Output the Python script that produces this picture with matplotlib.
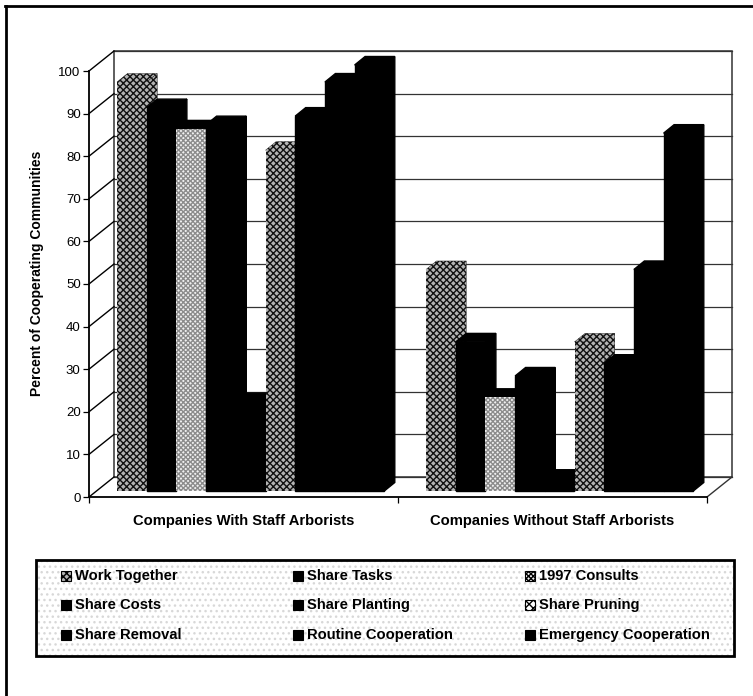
import matplotlib
matplotlib.use("Agg")
import matplotlib.pyplot as plt
from matplotlib.patches import Polygon, Rectangle

plt.rcParams["font.family"] = ["Liberation Sans", "DejaVu Sans"]
plt.rcParams["hatch.linewidth"] = 1.0

W, H = 753, 696

groups = ["Companies With Staff Arborists", "Companies Without Staff Arborists"]
series = ["Work Together", "Share Tasks", "1997 Consults", "Share Costs", "Share Planting",
          "Share Pruning", "Share Removal", "Routine Cooperation", "Emergency Cooperation"]
with_staff = [96, 90, 85, 86, 21, 80, 88, 96, 100]
without_staff = [52, 35, 22, 27, 3, 35, 30, 52, 84]
yticks = [0, 10, 20, 30, 40, 50, 60, 70, 80, 90, 100]

# fill, hatch, hatch colour per series
speckle = ("#b4b4b4", "xxxxx", "#111111")
solid = ("black", None, "black")
styles = [speckle, solid, ("#f0f0f0", "xxxxxxx", "#8c8c8c"), solid, solid,
          speckle, solid, solid, solid]
legend_swatch = list(styles)
legend_swatch[5] = ("white", "xxxx", "#777777")

fig = plt.figure(figsize=(W / 100, H / 100), dpi=100)

# front plane of the 3d box
ax = fig.add_axes([89 / W, 1 - 497 / H, (707 - 89) / W, (497 - 71) / H])
ax.set_xlim(0, 2)
ax.set_ylim(0, 100)
px = 2 / (707 - 89)
py = 100 / (497 - 71)

depth_x = 25 * px
depth_y = 20 * py
bar_w = 29.7 * px
bar_dx = 10.5 * px
bar_dy = 8.5 * py
base = 6 * py
start = 28 * px

ax.patch.set_visible(False)
for s in ["top", "right"]:
    ax.spines[s].set_visible(False)
ax.spines["left"].set_linewidth(1.3)
ax.spines["bottom"].set_linewidth(1.3)

# back wall, floor and gridlines
ax.add_patch(Polygon([(depth_x, depth_y), (depth_x, 100 + depth_y), (2 + depth_x, 100 + depth_y),
                      (2 + depth_x, depth_y)], closed=True, fill=False, ec="#333333", lw=1.1, clip_on=False))
for t in yticks:
    ax.plot([depth_x, 2 + depth_x], [t + depth_y, t + depth_y], color="#333333", lw=0.9, clip_on=False, zorder=1)
    ax.plot([0, depth_x], [t, t + depth_y], color="black", lw=1.0, clip_on=False, zorder=1)
ax.plot([2, 2 + depth_x], [0, depth_y], color="#333333", lw=1.0, clip_on=False, zorder=1)

for g, values in enumerate([with_staff, without_staff]):
    for i, v in enumerate(values):
        x0 = g + start + i * bar_w
        fc, hatch, hc = styles[i]
        # the consults bar has a light front only, its top and side print black
        dfc, dhatch, dhc = solid if i == 2 else styles[i]
        z = 2 + g * 10 + i
        lw_front = 1.0 if hatch is None else 0
        lw_depth = 1.0 if dhatch is None else 0.3
        top = v + base
        ax.add_patch(Polygon([(x0, top), (x0 + bar_dx, top + bar_dy), (x0 + bar_w + bar_dx, top + bar_dy),
                              (x0 + bar_w, top)], closed=True, fc=dfc, ec=dhc, hatch=dhatch, lw=lw_depth,
                             clip_on=False, zorder=z))
        ax.add_patch(Polygon([(x0 + bar_w, base), (x0 + bar_w + bar_dx, base + bar_dy),
                              (x0 + bar_w + bar_dx, top + bar_dy), (x0 + bar_w, top)], closed=True,
                             fc=dfc, ec=dhc, hatch=dhatch, lw=lw_depth, clip_on=False, zorder=z))
        ax.bar(x0, v, width=bar_w, bottom=base, align="edge", color=fc, hatch=hatch,
               edgecolor=hc, linewidth=lw_front, zorder=z + 0.5, clip_on=False)

ax.set_yticks(yticks)
ax.set_xticks([0, 1, 2])
ax.set_xticklabels([])
ax.tick_params(axis="y", labelsize=9.5, length=4, width=0.9, pad=2)
ax.tick_params(axis="x", length=4, width=0.9)
ax.set_xticks([0.5, 1.5], minor=True)
ax.set_xticklabels(groups, minor=True, fontsize=10.6, fontweight="bold")
ax.tick_params(axis="x", which="minor", length=0, pad=12)
ax.set_ylabel("Percent of Cooperating Communities", fontsize=10, fontweight="bold")
ax.yaxis.set_label_coords((44 - 89) / (707 - 89), (497 - 273) / (497 - 71))

# outer frame
fig.add_artist(plt.Line2D([6.5 / W, 6.5 / W], [0, 1 - 6 / H], color="black", lw=2))
fig.add_artist(plt.Line2D([5 / W, 1], [1 - 6 / H, 1 - 6 / H], color="black", lw=2))

# legend box in pixel coordinates
lax = fig.add_axes([0, 0, 1, 1])
lax.set_xlim(0, W)
lax.set_ylim(H, 0)
lax.axis("off")
lax.patch.set_visible(False)
lax.add_patch(Rectangle((36, 560), 698, 96, fc="white", ec="#d8d8d8", hatch="...", lw=0))
lax.add_patch(Rectangle((36, 560), 698, 96, fill=False, ec="black", lw=2))
col_x = [61, 293, 525]
row_y = [576, 605, 635]
for i, name in enumerate(series):
    x = col_x[i % 3]
    y = row_y[i // 3]
    fc, hatch, hc = legend_swatch[i]
    lax.add_patch(Rectangle((x, y - 5), 10, 10, fc=fc, ec="black", hatch=hatch, lw=0.8))
    lax.text(x + 14, y, name, fontsize=10.6, fontweight="bold", va="center", ha="left")

fig.savefig("out.png", dpi=100)
